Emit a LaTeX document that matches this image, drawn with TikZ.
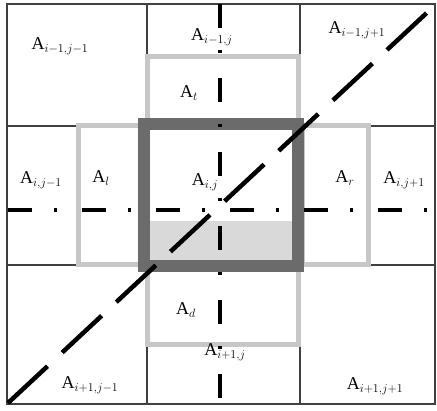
\documentclass[tikz,border=0pt]{standalone}
\usepackage{fontspec}
\setmainfont{Liberation Serif}
\usepackage{tikz}
\usetikzlibrary{positioning}

\begin{document}
\begin{tikzpicture}[
    x=1pt, y=-1pt,
    grid/.style={draw=black!75, line width=1.4pt},
    halo/.style={draw=black!22, line width=5pt},
    core/.style={draw=black!58, line width=12pt},
    axis/.style={draw=black, line width=4pt, dash pattern=on 24pt off 22pt on 3pt off 25pt},
    diag/.style={draw=black, line width=4.5pt, dash pattern=on 54pt off 20pt},
    lbl/.style={font=\fontsize{18}{20}\selectfont, inner sep=0pt}
]

\useasboundingbox (0,0) rectangle (437,411);

\draw[grid] (7,4) rectangle (435,404);
\draw[grid] (147,4) -- (147,404);
\draw[grid] (300,4) -- (300,404);
\draw[grid] (7,126) -- (435,126);
\draw[grid] (7,265) -- (435,265);

\fill[black!15] (150,221) rectangle (294,262);

\draw[halo] (147,57) rectangle (298,124);
\draw[halo] (147,268) rectangle (298,345);
\draw[halo] (78,126) rectangle (143,265);
\draw[halo] (302,126) rectangle (368,265);

\draw[core] (144,124) rectangle (298,266);

\coordinate (sw) at (8,403);
\coordinate (ne) at (432,8);

\draw[axis] (8,210) -- (435,210);
\draw[axis] (220,4) -- (220,404);
\draw[diag] (sw) -- (ne);

\node[lbl] (nw) at (60,46) {A$_{i-1,j-1}$};
\node[lbl] (n) at (212,37) {A$_{i-1,j}$};
\node[lbl] (ner) at (357,30) {A$_{i-1,j+1}$};
\node[lbl] (at) at (189,93) {A$_t$};
\node[lbl] (w) at (41,180) {A$_{i,j-1}$};
\node[lbl] (al) at (101,178) {A$_l$};
\node[lbl] (c) at (205,182) {A$_{i,j}$};
\node[lbl] (ar) at (345,178) {A$_r$};
\node[lbl] (e) at (404,180) {A$_{i,j+1}$};
\node[lbl] (ad) at (186,310) {A$_d$};
\node[lbl] (s) at (225,352) {A$_{i+1,j}$};
\node[lbl] (swl) at (90,385) {A$_{i+1,j-1}$};
\node[lbl] (sel) at (375,386) {A$_{i+1,j+1}$};

\end{tikzpicture}
\end{document}
